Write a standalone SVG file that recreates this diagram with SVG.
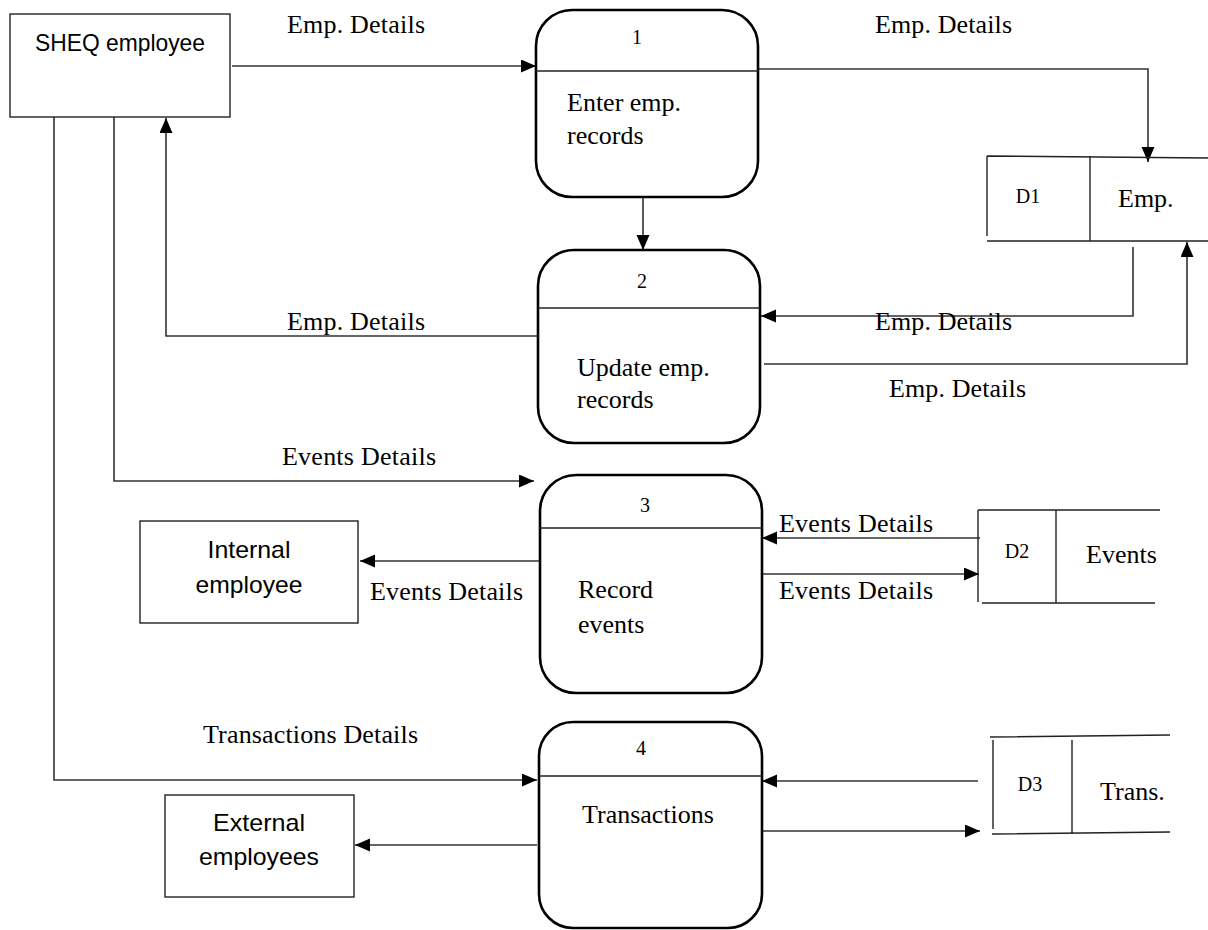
<svg xmlns="http://www.w3.org/2000/svg" width="1208" height="930" viewBox="0 0 1208 930">
  <style>
    .proc { fill: #fff; stroke: #000; stroke-width: 2.6; }
    .ent { fill: #fff; stroke: #222; stroke-width: 1.4; }
    .div { stroke: #222; stroke-width: 1.6; fill: none; }
    .store { stroke: #222; stroke-width: 1.4; fill: none; }
    .flow { stroke: #333; stroke-width: 1.6; fill: none; marker-end: url(#arrow); }
    .lbl { font-family: "Liberation Serif", "Times New Roman", serif; font-size: 26px; fill: #000; }
    .num { font-family: "Liberation Serif", "Times New Roman", serif; font-size: 20px; fill: #000; text-anchor: middle; }
    .sans { font-family: "Liberation Sans", Arial, sans-serif; font-size: 24px; fill: #000; text-anchor: middle; }
  </style>
  <defs>
    <marker id="arrow" markerUnits="userSpaceOnUse" markerWidth="16" markerHeight="14" refX="15" refY="6.5" orient="auto">
      <path d="M0,0 L15,6.5 L0,13 Z" fill="#000"/>
    </marker>
  </defs>

  <!-- data flows -->
  <g id="connectors">
    <path class="flow" d="M232,66 H536"/>
    <path class="flow" d="M758,69 H1148 V162"/>
    <path class="flow" d="M643,197 V250"/>
    <path class="flow" d="M1133,247 V316 H761"/>
    <path class="flow" d="M764,364 H1187 V242"/>
    <path class="flow" d="M538,336 H166 V118"/>
    <path class="flow" d="M114,117 V481 H534"/>
    <path class="flow" d="M54,117 V780 H537"/>
    <path class="flow" d="M539,561 H360"/>
    <path class="flow" d="M980,538 H762"/>
    <path class="flow" d="M763,574 H979"/>
    <path class="flow" d="M978,781 H762"/>
    <path class="flow" d="M763,831 H980"/>
    <path class="flow" d="M537,845 H355"/>

    <text class="lbl" x="287" y="33" textLength="138">Emp. Details</text>
    <text class="lbl" x="875" y="33" textLength="137">Emp. Details</text>
    <text class="lbl" x="287" y="330" textLength="138">Emp. Details</text>
    <text class="lbl" x="875" y="330" textLength="137">Emp. Details</text>
    <text class="lbl" x="889" y="397" textLength="137">Emp. Details</text>
    <text class="lbl" x="282" y="465" textLength="154">Events Details</text>
    <text class="lbl" x="370" y="600" textLength="153">Events Details</text>
    <text class="lbl" x="779" y="532" textLength="154">Events Details</text>
    <text class="lbl" x="779" y="599" textLength="154">Events Details</text>
    <text class="lbl" x="203" y="743" textLength="215">Transactions Details</text>
  </g>

  <!-- external entities -->
  <g id="sheq-employee">
    <rect class="ent" x="10" y="14" width="220" height="103"/>
    <text class="sans" x="120" y="51" textLength="170" lengthAdjust="spacingAndGlyphs">SHEQ employee</text>
  </g>
  <g id="internal-employee">
    <rect class="ent" x="140" y="521" width="218" height="102"/>
    <text class="sans" x="249" y="558" textLength="83" lengthAdjust="spacingAndGlyphs">Internal</text>
    <text class="sans" x="249" y="593" textLength="107" lengthAdjust="spacingAndGlyphs">employee</text>
  </g>
  <g id="external-employees">
    <rect class="ent" x="165" y="795" width="189" height="102"/>
    <text class="sans" x="259" y="831" textLength="92" lengthAdjust="spacingAndGlyphs">External</text>
    <text class="sans" x="259" y="865" textLength="120" lengthAdjust="spacingAndGlyphs">employees</text>
  </g>

  <!-- processes -->
  <g id="process-1">
    <rect class="proc" x="536" y="10" width="222" height="187" rx="36" ry="36"/>
    <line class="div" x1="536" y1="71" x2="758" y2="71"/>
    <text class="num" x="637" y="44">1</text>
    <text class="lbl" x="567" y="111">Enter emp.</text>
    <text class="lbl" x="567" y="144">records</text>
  </g>
  <g id="process-2">
    <rect class="proc" x="538" y="250" width="222" height="193" rx="36" ry="36"/>
    <line class="div" x1="538" y1="308" x2="760" y2="308"/>
    <text class="num" x="642" y="288">2</text>
    <text class="lbl" x="577" y="376">Update emp.</text>
    <text class="lbl" x="577" y="408">records</text>
  </g>
  <g id="process-3">
    <rect class="proc" x="540" y="475" width="222" height="218" rx="36" ry="36"/>
    <line class="div" x1="540" y1="528" x2="762" y2="528"/>
    <text class="num" x="645" y="512">3</text>
    <text class="lbl" x="578" y="598">Record</text>
    <text class="lbl" x="578" y="633">events</text>
  </g>
  <g id="process-4">
    <rect class="proc" x="539" y="722" width="223" height="206" rx="34" ry="34"/>
    <line class="div" x1="539" y1="776" x2="762" y2="776"/>
    <text class="num" x="641" y="755">4</text>
    <text class="lbl" x="582" y="823">Transactions</text>
  </g>

  <!-- data stores -->
  <g id="store-d1">
    <path class="store" d="M987,156 L1208,158 M987,156 V236 M1090,156 V241 M987,241 H1208"/>
    <text class="num" x="1028" y="203">D1</text>
    <text class="lbl" x="1118" y="207">Emp.</text>
  </g>
  <g id="store-d2">
    <path class="store" d="M978,510 H1160 M978,510 V602 M1056,510 V603 M982,603 H1155"/>
    <text class="num" x="1017" y="558">D2</text>
    <text class="lbl" x="1086" y="563">Events</text>
  </g>
  <g id="store-d3">
    <path class="store" d="M990,737 L1170,735 M993,740 V829 M1072,740 V834 M992,834 L1170,832"/>
    <text class="num" x="1030" y="791">D3</text>
    <text class="lbl" x="1100" y="800">Trans.</text>
  </g>
</svg>
